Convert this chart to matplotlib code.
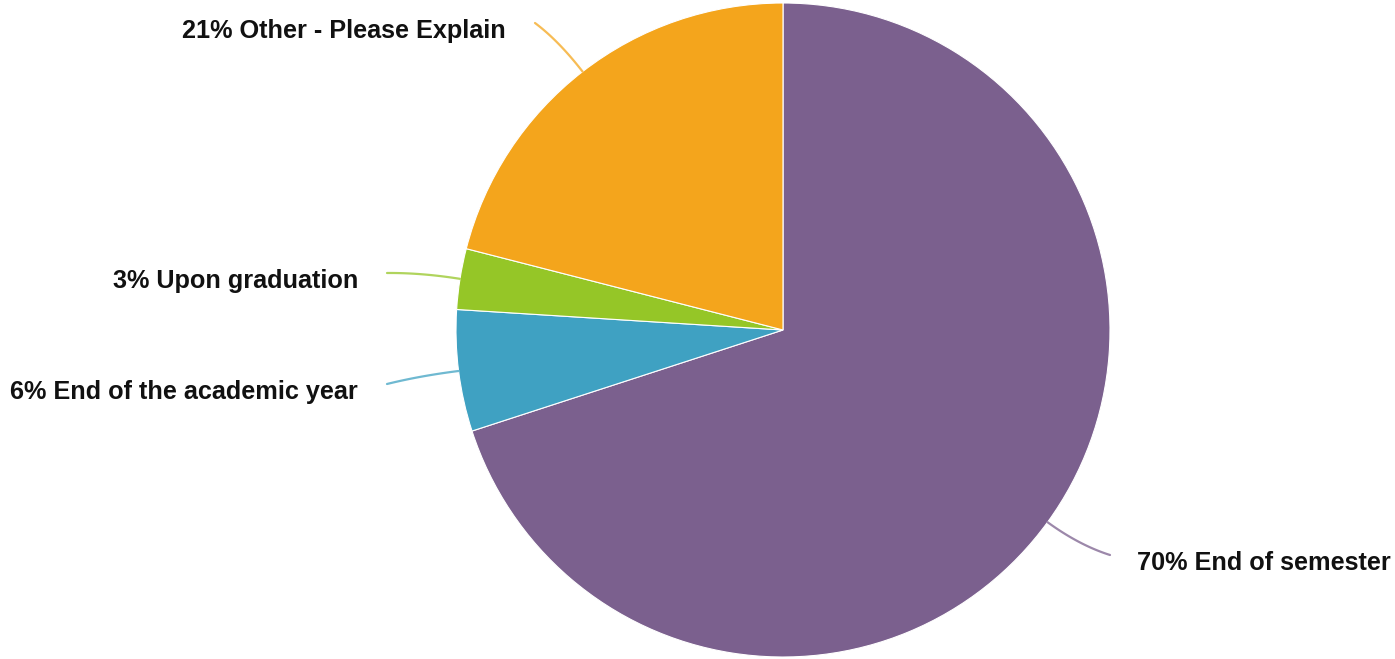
import numpy as np
import matplotlib.pyplot as plt
from matplotlib.colors import to_rgb

# Survey answers, drawn clockwise from 12 o'clock
labels = ["End of semester", "End of the academic year", "Upon graduation", "Other - Please Explain"]
shares = [70, 6, 3, 21]
colors = ["#7b608e", "#3fa1c2", "#95c627", "#f4a51c"]

# Where each callout line ends, and which side its text sits on
callout_ends = [(1110, 104), (387, 275), (387, 386), (535, 636)]
callout_side = ["right", "left", "left", "left"]

W, H = 1395, 659
CENTER = (783, 329)
RADIUS = 327

fig = plt.figure(figsize=(W / 100, H / 100), dpi=100)
ax = fig.add_axes([0, 0, 1, 1])

wedges, _ = ax.pie(
    shares,
    colors=colors,
    startangle=90,
    counterclock=False,
    center=CENTER,
    radius=RADIUS,
    wedgeprops=dict(edgecolor="white", linewidth=0.8),
    frame=True,
)
ax.set_xlim(0, W)
ax.set_ylim(0, H)
ax.set_aspect("equal")
ax.axis("off")


def lighten(color, amount=0.25):
    rgb = np.array(to_rgb(color))
    return tuple(rgb + (1 - rgb) * amount)


for wedge, label, share, color, end, side in zip(wedges, labels, shares, colors, callout_ends, callout_side):
    mid = np.deg2rad((wedge.theta1 + wedge.theta2) / 2)
    start = (CENTER[0] + RADIUS * np.cos(mid), CENTER[1] + RADIUS * np.sin(mid))
    # slight bend: control point pushed outward along the radius
    ctrl = (CENTER[0] + RADIUS * 1.12 * np.cos(mid), CENTER[1] + RADIUS * 1.12 * np.sin(mid))
    t = np.linspace(0, 1, 30)[:, None]
    p0, p1, p2 = np.array(start), np.array(ctrl), np.array(end)
    curve = (1 - t) ** 2 * p0 + 2 * (1 - t) * t * p1 + t ** 2 * p2
    ax.plot(curve[:, 0], curve[:, 1], color=lighten(color), linewidth=1.6, solid_capstyle="round")
    if side == "left":
        tx, ha = end[0] - 29, "right"
    else:
        tx, ha = end[0] + 27, "left"
    ax.text(tx, end[1] - 8, f"{share}% {label}", ha=ha, va="center",
            fontsize=18.2, fontweight="bold", family="Liberation Sans", color="#111111")

fig.savefig("out.png", dpi=100)
